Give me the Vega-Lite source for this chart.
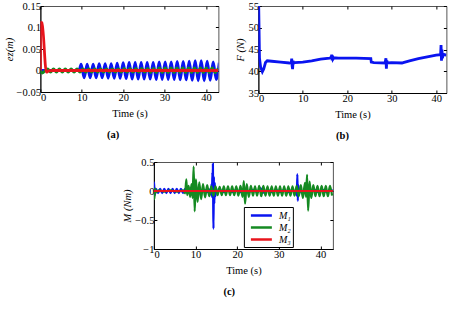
{
  "$schema": "https://vega.github.io/schema/vega-lite/v6.json",
  "background": "white",
  "padding": {"left": 3, "top": -19, "right": 2, "bottom": 0},
  "config": {
    "font": "Liberation Serif",
    "view": {"stroke": "#555", "strokeWidth": 1},
    "axis": {
      "labelFont": "Liberation Serif", "titleFont": "Liberation Serif",
      "labelFontSize": 10.5, "titleFontSize": 10.5,
      "labelColor": "#000", "titleColor": "#000", "titleFontWeight": "normal",
      "domainColor": "#000", "tickColor": "#000", "tickSize": -3,
      "labelPadding": 3, "grid": false, "format": "~f"
    },
    "axisX": {"titlePadding": 6},
    "axisY": {"titlePadding": 2},
    "title": {"font": "Liberation Serif", "fontSize": 10.5, "fontWeight": "bold", "color": "#000", "orient": "bottom", "offset": 11, "anchor": "middle", "frame": "bounds"},
    "legend": {"labelFont": "Liberation Serif"}
  },
  "datasets": {
    "ez": [
      {"t": 0, "v": 0, "s": "x"}, {"t": 9.3, "v": 0, "s": "x"},
      {"t": 9.85, "v": 0.015, "s": "x"}, {"t": 10.57, "v": -0.017, "s": "x"},
      {"t": 11.3, "v": 0.015, "s": "x"}, {"t": 12.02, "v": -0.017, "s": "x"},
      {"t": 12.75, "v": 0.015, "s": "x"}, {"t": 13.47, "v": -0.017, "s": "x"},
      {"t": 14.2, "v": 0.016, "s": "x"}, {"t": 14.92, "v": -0.017, "s": "x"},
      {"t": 15.65, "v": 0.016, "s": "x"}, {"t": 16.37, "v": -0.018, "s": "x"},
      {"t": 17.1, "v": 0.016, "s": "x"}, {"t": 17.82, "v": -0.018, "s": "x"},
      {"t": 18.55, "v": 0.017, "s": "x"}, {"t": 19.27, "v": -0.018, "s": "x"},
      {"t": 20.0, "v": 0.018, "s": "x"}, {"t": 20.72, "v": -0.019, "s": "x"},
      {"t": 21.45, "v": 0.019, "s": "x"}, {"t": 22.17, "v": -0.02, "s": "x"},
      {"t": 22.9, "v": 0.019, "s": "x"}, {"t": 23.62, "v": -0.02, "s": "x"},
      {"t": 24.35, "v": 0.019, "s": "x"}, {"t": 25.07, "v": -0.02, "s": "x"},
      {"t": 25.8, "v": 0.019, "s": "x"}, {"t": 26.52, "v": -0.02, "s": "x"},
      {"t": 27.25, "v": 0.019, "s": "x"}, {"t": 27.97, "v": -0.021, "s": "x"},
      {"t": 28.7, "v": 0.02, "s": "x"}, {"t": 29.42, "v": -0.021, "s": "x"},
      {"t": 30.15, "v": 0.02, "s": "x"}, {"t": 30.87, "v": -0.021, "s": "x"},
      {"t": 31.6, "v": 0.02, "s": "x"}, {"t": 32.32, "v": -0.021, "s": "x"},
      {"t": 33.05, "v": 0.021, "s": "x"}, {"t": 33.77, "v": -0.022, "s": "x"},
      {"t": 34.5, "v": 0.021, "s": "x"}, {"t": 35.22, "v": -0.022, "s": "x"},
      {"t": 35.95, "v": 0.022, "s": "x"}, {"t": 36.67, "v": -0.023, "s": "x"},
      {"t": 37.4, "v": 0.023, "s": "x"}, {"t": 38.12, "v": -0.024, "s": "x"},
      {"t": 38.85, "v": 0.023, "s": "x"}, {"t": 39.57, "v": -0.024, "s": "x"},
      {"t": 40.3, "v": 0.022, "s": "x"}, {"t": 41.02, "v": -0.023, "s": "x"},
      {"t": 41.75, "v": 0.02, "s": "x"}, {"t": 42.47, "v": -0.021, "s": "x"},
      {"t": 43.2, "v": 0.018, "s": "x"},
      {"t": 0, "v": 0, "s": "y"}, {"t": 0.45, "v": -0.006, "s": "y"},
      {"t": 1.75, "v": 0.004, "s": "y"}, {"t": 2.46, "v": -0.004, "s": "y"},
      {"t": 3.17, "v": 0.004, "s": "y"}, {"t": 3.88, "v": -0.004, "s": "y"},
      {"t": 4.59, "v": 0.004, "s": "y"}, {"t": 5.3, "v": -0.004, "s": "y"},
      {"t": 6.01, "v": 0.004, "s": "y"}, {"t": 6.72, "v": -0.004, "s": "y"},
      {"t": 7.43, "v": 0.004, "s": "y"}, {"t": 8.14, "v": -0.004, "s": "y"},
      {"t": 8.85, "v": 0.004, "s": "y"}, {"t": 9.56, "v": -0.004, "s": "y"},
      {"t": 10.27, "v": 0.004, "s": "y"}, {"t": 10.98, "v": -0.004, "s": "y"},
      {"t": 11.69, "v": 0.004, "s": "y"}, {"t": 12.4, "v": -0.004, "s": "y"},
      {"t": 13.11, "v": 0.004, "s": "y"}, {"t": 13.82, "v": -0.004, "s": "y"},
      {"t": 14.53, "v": 0.004, "s": "y"}, {"t": 15.24, "v": -0.004, "s": "y"},
      {"t": 15.95, "v": 0.004, "s": "y"}, {"t": 16.66, "v": -0.004, "s": "y"},
      {"t": 17.37, "v": 0.004, "s": "y"}, {"t": 18.08, "v": -0.004, "s": "y"},
      {"t": 18.79, "v": 0.004, "s": "y"}, {"t": 19.5, "v": -0.004, "s": "y"},
      {"t": 20.21, "v": 0.005, "s": "y"}, {"t": 20.92, "v": -0.004, "s": "y"},
      {"t": 21.63, "v": 0.005, "s": "y"}, {"t": 22.34, "v": -0.004, "s": "y"},
      {"t": 23.05, "v": 0.005, "s": "y"}, {"t": 23.76, "v": -0.004, "s": "y"},
      {"t": 24.47, "v": 0.005, "s": "y"}, {"t": 25.18, "v": -0.004, "s": "y"},
      {"t": 25.89, "v": 0.005, "s": "y"}, {"t": 26.6, "v": -0.005, "s": "y"},
      {"t": 27.31, "v": 0.005, "s": "y"}, {"t": 28.02, "v": -0.005, "s": "y"},
      {"t": 28.73, "v": 0.006, "s": "y"}, {"t": 29.44, "v": -0.005, "s": "y"},
      {"t": 30.15, "v": 0.006, "s": "y"}, {"t": 30.86, "v": -0.005, "s": "y"},
      {"t": 31.57, "v": 0.006, "s": "y"}, {"t": 32.28, "v": -0.005, "s": "y"},
      {"t": 32.99, "v": 0.006, "s": "y"}, {"t": 33.7, "v": -0.005, "s": "y"},
      {"t": 34.41, "v": 0.006, "s": "y"}, {"t": 35.12, "v": -0.005, "s": "y"},
      {"t": 35.83, "v": 0.006, "s": "y"}, {"t": 36.54, "v": -0.005, "s": "y"},
      {"t": 37.25, "v": 0.006, "s": "y"}, {"t": 37.96, "v": -0.005, "s": "y"},
      {"t": 38.67, "v": 0.006, "s": "y"}, {"t": 39.38, "v": -0.005, "s": "y"},
      {"t": 40.09, "v": 0.006, "s": "y"}, {"t": 40.8, "v": -0.005, "s": "y"},
      {"t": 41.51, "v": 0.006, "s": "y"}, {"t": 42.22, "v": -0.005, "s": "y"},
      {"t": 42.93, "v": 0.005, "s": "y"},
      {"t": 0, "v": 0, "s": "z"}, {"t": 0.05, "v": 0.112, "s": "z"},
      {"t": 0.4, "v": 0.111, "s": "z"}, {"t": 1.45, "v": -0.004, "s": "z"},
      {"t": 2.0, "v": -0.001, "s": "z"}, {"t": 3.0, "v": 0, "s": "z"},
      {"t": 43, "v": 0, "s": "z"}
    ],
    "force": [
      {"t": 0, "F": 60}, {"t": 0.25, "F": 43}, {"t": 0.5, "F": 41}, {"t": 0.9, "F": 39.9},
      {"t": 1.2, "F": 40.5}, {"t": 1.6, "F": 42.0}, {"t": 2.0, "F": 42.4}, {"t": 3, "F": 42.3},
      {"t": 5, "F": 42.1}, {"t": 7.0, "F": 41.9}, {"t": 7.4, "F": 42.0}, {"t": 7.5, "F": 42.9},
      {"t": 7.6, "F": 41.2}, {"t": 7.7, "F": 40.5}, {"t": 7.8, "F": 42.4}, {"t": 7.9, "F": 41.8},
      {"t": 8.2, "F": 42.0}, {"t": 10, "F": 42.1}, {"t": 12, "F": 42.4}, {"t": 14, "F": 42.8},
      {"t": 16, "F": 43.0}, {"t": 16.4, "F": 43.2}, {"t": 16.5, "F": 43.8}, {"t": 16.6, "F": 42.5},
      {"t": 16.7, "F": 43.6}, {"t": 16.8, "F": 42.8}, {"t": 17.0, "F": 43.1}, {"t": 18, "F": 43.0},
      {"t": 22, "F": 43.0}, {"t": 25.3, "F": 42.9}, {"t": 25.4, "F": 42.1}, {"t": 26, "F": 42.0},
      {"t": 28.5, "F": 41.9}, {"t": 28.7, "F": 43.0}, {"t": 28.8, "F": 40.6}, {"t": 28.9, "F": 42.5},
      {"t": 29.0, "F": 41.9}, {"t": 30, "F": 42.0}, {"t": 32.3, "F": 41.9}, {"t": 32.6, "F": 42.0},
      {"t": 34, "F": 42.4}, {"t": 36, "F": 42.9}, {"t": 38, "F": 43.3}, {"t": 40, "F": 43.7},
      {"t": 41.0, "F": 43.8}, {"t": 41.1, "F": 46.0}, {"t": 41.2, "F": 42.4}, {"t": 41.3, "F": 45.0},
      {"t": 41.4, "F": 43.0}, {"t": 41.6, "F": 43.9}, {"t": 42.3, "F": 43.7}
    ],
    "moment": [
      {"t": 0, "v": 0, "s": "M₁"}, {"t": 0.05, "v": 0.15, "s": "M₁"}, {"t": 0.2, "v": -0.07, "s": "M₁"},
      {"t": 0.5, "v": 0.035, "s": "M₁"}, {"t": 1.0, "v": -0.035, "s": "M₁"}, {"t": 1.5, "v": 0.035, "s": "M₁"},
      {"t": 2.0, "v": -0.035, "s": "M₁"}, {"t": 2.5, "v": 0.035, "s": "M₁"}, {"t": 3.0, "v": -0.035, "s": "M₁"},
      {"t": 3.5, "v": 0.035, "s": "M₁"}, {"t": 4.0, "v": -0.035, "s": "M₁"}, {"t": 4.5, "v": 0.035, "s": "M₁"},
      {"t": 5.0, "v": -0.035, "s": "M₁"}, {"t": 5.5, "v": 0.035, "s": "M₁"}, {"t": 6.0, "v": -0.035, "s": "M₁"},
      {"t": 6.5, "v": 0.035, "s": "M₁"}, {"t": 7.0, "v": -0.035, "s": "M₁"}, {"t": 7.5, "v": 0.035, "s": "M₁"},
      {"t": 8.0, "v": -0.035, "s": "M₁"}, {"t": 8.5, "v": 0.03, "s": "M₁"}, {"t": 9.0, "v": -0.03, "s": "M₁"},
      {"t": 9.5, "v": 0.03, "s": "M₁"}, {"t": 10.0, "v": -0.03, "s": "M₁"}, {"t": 10.6, "v": 0.02, "s": "M₁"},
      {"t": 11.4, "v": -0.02, "s": "M₁"}, {"t": 12.2, "v": 0.02, "s": "M₁"}, {"t": 13.0, "v": -0.02, "s": "M₁"},
      {"t": 13.5, "v": 0.03, "s": "M₁"}, {"t": 13.7, "v": -0.06, "s": "M₁"}, {"t": 13.85, "v": 0.12, "s": "M₁"},
      {"t": 13.95, "v": -0.1, "s": "M₁"}, {"t": 14.05, "v": 0.32, "s": "M₁"}, {"t": 14.12, "v": 0.1, "s": "M₁"},
      {"t": 14.18, "v": 0.47, "s": "M₁"}, {"t": 14.26, "v": -0.3, "s": "M₁"}, {"t": 14.32, "v": -0.65, "s": "M₁"},
      {"t": 14.42, "v": 0.25, "s": "M₁"}, {"t": 14.52, "v": -0.22, "s": "M₁"}, {"t": 14.64, "v": 0.14, "s": "M₁"},
      {"t": 14.78, "v": -0.09, "s": "M₁"}, {"t": 14.95, "v": 0.05, "s": "M₁"}, {"t": 15.2, "v": -0.03, "s": "M₁"},
      {"t": 15.8, "v": 0.02, "s": "M₁"}, {"t": 16.8, "v": -0.02, "s": "M₁"}, {"t": 17.8, "v": 0.02, "s": "M₁"},
      {"t": 18.8, "v": -0.02, "s": "M₁"}, {"t": 19.8, "v": 0.02, "s": "M₁"}, {"t": 20.8, "v": -0.02, "s": "M₁"},
      {"t": 21.8, "v": 0.02, "s": "M₁"}, {"t": 22.8, "v": -0.02, "s": "M₁"}, {"t": 23.8, "v": 0.02, "s": "M₁"},
      {"t": 24.8, "v": -0.02, "s": "M₁"}, {"t": 25.6, "v": 0.05, "s": "M₁"}, {"t": 26.3, "v": -0.03, "s": "M₁"},
      {"t": 27.3, "v": 0.02, "s": "M₁"}, {"t": 28.3, "v": -0.02, "s": "M₁"}, {"t": 29.3, "v": 0.02, "s": "M₁"},
      {"t": 30.3, "v": -0.02, "s": "M₁"}, {"t": 31.3, "v": 0.02, "s": "M₁"}, {"t": 32.3, "v": -0.02, "s": "M₁"},
      {"t": 33.3, "v": 0.02, "s": "M₁"}, {"t": 33.9, "v": -0.02, "s": "M₁"}, {"t": 34.2, "v": 0.03, "s": "M₁"},
      {"t": 34.35, "v": -0.08, "s": "M₁"}, {"t": 34.47, "v": 0.29, "s": "M₁"}, {"t": 34.57, "v": -0.17, "s": "M₁"},
      {"t": 34.7, "v": 0.1, "s": "M₁"}, {"t": 34.85, "v": -0.06, "s": "M₁"}, {"t": 35.05, "v": 0.03, "s": "M₁"},
      {"t": 35.5, "v": -0.02, "s": "M₁"}, {"t": 36.5, "v": 0.02, "s": "M₁"}, {"t": 37.5, "v": -0.02, "s": "M₁"},
      {"t": 38.5, "v": 0.02, "s": "M₁"}, {"t": 39.5, "v": -0.02, "s": "M₁"}, {"t": 40.5, "v": 0.02, "s": "M₁"},
      {"t": 41.5, "v": -0.02, "s": "M₁"}, {"t": 42.5, "v": 0.02, "s": "M₁"}, {"t": 43, "v": 0, "s": "M₁"},
      {"t": 0, "v": 0, "s": "M₂"}, {"t": 0.1, "v": -0.14, "s": "M₂"}, {"t": 0.3, "v": 0.04, "s": "M₂"},
      {"t": 0.6, "v": -0.02, "s": "M₂"}, {"t": 1.2, "v": 0.01, "s": "M₂"}, {"t": 2.5, "v": -0.01, "s": "M₂"},
      {"t": 4.0, "v": 0.01, "s": "M₂"}, {"t": 5.5, "v": -0.01, "s": "M₂"}, {"t": 7.0, "v": 0.01, "s": "M₂"},
      {"t": 7.5, "v": -0.04, "s": "M₂"}, {"t": 7.8, "v": 0.2, "s": "M₂"}, {"t": 8.0, "v": -0.07, "s": "M₂"},
      {"t": 8.35, "v": 0.09, "s": "M₂"}, {"t": 8.7, "v": -0.1, "s": "M₂"}, {"t": 9.05, "v": 0.12, "s": "M₂"},
      {"t": 9.3, "v": -0.12, "s": "M₂"}, {"t": 9.55, "v": 0.42, "s": "M₂"}, {"t": 9.8, "v": -0.35, "s": "M₂"},
      {"t": 10.1, "v": 0.2, "s": "M₂"}, {"t": 10.5, "v": -0.19, "s": "M₂"}, {"t": 10.9, "v": 0.15, "s": "M₂"},
      {"t": 11.35, "v": -0.14, "s": "M₂"}, {"t": 11.8, "v": 0.12, "s": "M₂"}, {"t": 12.3, "v": -0.11, "s": "M₂"},
      {"t": 12.8, "v": 0.1, "s": "M₂"}, {"t": 13.3, "v": -0.09, "s": "M₂"}, {"t": 13.8, "v": 0.08, "s": "M₂"},
      {"t": 14.3, "v": -0.08, "s": "M₂"}, {"t": 14.8, "v": 0.08, "s": "M₂"}, {"t": 15.3, "v": -0.07, "s": "M₂"},
      {"t": 15.8, "v": 0.07, "s": "M₂"}, {"t": 16.3, "v": -0.07, "s": "M₂"}, {"t": 16.8, "v": 0.08, "s": "M₂"},
      {"t": 17.3, "v": -0.07, "s": "M₂"}, {"t": 17.8, "v": 0.08, "s": "M₂"}, {"t": 18.3, "v": -0.07, "s": "M₂"},
      {"t": 18.8, "v": 0.08, "s": "M₂"}, {"t": 19.3, "v": -0.07, "s": "M₂"}, {"t": 19.8, "v": 0.08, "s": "M₂"},
      {"t": 20.3, "v": -0.08, "s": "M₂"}, {"t": 20.8, "v": 0.09, "s": "M₂"}, {"t": 21.3, "v": -0.1, "s": "M₂"},
      {"t": 21.6, "v": 0.17, "s": "M₂"}, {"t": 21.9, "v": -0.22, "s": "M₂"}, {"t": 22.3, "v": 0.12, "s": "M₂"},
      {"t": 22.8, "v": -0.1, "s": "M₂"}, {"t": 23.3, "v": 0.09, "s": "M₂"}, {"t": 23.8, "v": -0.08, "s": "M₂"},
      {"t": 24.3, "v": 0.08, "s": "M₂"}, {"t": 24.8, "v": -0.08, "s": "M₂"}, {"t": 25.3, "v": 0.09, "s": "M₂"},
      {"t": 25.8, "v": -0.09, "s": "M₂"}, {"t": 26.3, "v": 0.09, "s": "M₂"}, {"t": 26.8, "v": -0.08, "s": "M₂"},
      {"t": 27.3, "v": 0.08, "s": "M₂"}, {"t": 27.8, "v": -0.08, "s": "M₂"}, {"t": 28.3, "v": 0.08, "s": "M₂"},
      {"t": 28.8, "v": -0.08, "s": "M₂"}, {"t": 29.3, "v": 0.08, "s": "M₂"}, {"t": 29.8, "v": -0.08, "s": "M₂"},
      {"t": 30.3, "v": 0.08, "s": "M₂"}, {"t": 30.8, "v": -0.08, "s": "M₂"}, {"t": 31.3, "v": 0.08, "s": "M₂"},
      {"t": 31.8, "v": -0.08, "s": "M₂"}, {"t": 32.3, "v": 0.08, "s": "M₂"}, {"t": 32.8, "v": -0.08, "s": "M₂"},
      {"t": 33.3, "v": 0.08, "s": "M₂"}, {"t": 33.8, "v": -0.08, "s": "M₂"}, {"t": 34.3, "v": 0.09, "s": "M₂"},
      {"t": 34.8, "v": -0.09, "s": "M₂"}, {"t": 35.3, "v": 0.1, "s": "M₂"}, {"t": 35.8, "v": -0.12, "s": "M₂"},
      {"t": 36.3, "v": 0.14, "s": "M₂"}, {"t": 36.55, "v": -0.1, "s": "M₂"}, {"t": 36.8, "v": 0.28, "s": "M₂"},
      {"t": 37.05, "v": -0.34, "s": "M₂"}, {"t": 37.4, "v": 0.16, "s": "M₂"}, {"t": 37.8, "v": -0.12, "s": "M₂"},
      {"t": 38.3, "v": 0.1, "s": "M₂"}, {"t": 38.8, "v": -0.09, "s": "M₂"}, {"t": 39.3, "v": 0.09, "s": "M₂"},
      {"t": 39.8, "v": -0.09, "s": "M₂"}, {"t": 40.3, "v": 0.09, "s": "M₂"}, {"t": 40.8, "v": -0.09, "s": "M₂"},
      {"t": 41.3, "v": 0.09, "s": "M₂"}, {"t": 41.8, "v": -0.09, "s": "M₂"}, {"t": 42.3, "v": 0.09, "s": "M₂"},
      {"t": 42.8, "v": -0.08, "s": "M₂"},
      {"t": 0, "v": 0, "s": "M₃"}, {"t": 43, "v": 0, "s": "M₃"}
    ]
  },
  "vconcat": [
    {
      "hconcat": [
        {
          "width": 178, "height": 86,
          "title": "(a)",
          "data": {"name": "ez"},
          "layer": [
            {
              "mark": {"type": "line", "interpolate": "monotone", "strokeWidth": 2.8, "clip": true},
              "encoding": {
                "x": {"field": "t", "type": "quantitative", "scale": {"domain": [0, 43], "nice": false, "zero": false},
                      "axis": {"title": "Time (s)", "values": [0, 10, 20, 30, 40]}},
                "y": {"field": "v", "type": "quantitative", "scale": {"domain": [-0.05, 0.15], "nice": false},
                      "axis": {"title": "eᴢ(m)", "titleFontStyle": "italic", "values": [-0.05, 0, 0.05, 0.1, 0.15]}},
                "color": {"field": "s", "type": "nominal", "legend": null,
                          "scale": {"domain": ["x", "y", "z"], "range": ["#0a14f0", "#158a22", "#e8141c"]}}
              }
            },
            {
              "mark": {"type": "point", "opacity": 0},
              "encoding": {
                "x": {"field": "t", "type": "quantitative", "axis": {"orient": "top", "labels": false, "title": null, "domain": false, "minExtent": 0, "maxExtent": 0, "values": [0, 10, 20, 30, 40]}},
                "y": {"field": "v", "type": "quantitative", "axis": {"orient": "right", "labels": false, "title": null, "domain": false, "minExtent": 0, "maxExtent": 0, "values": [-0.05, 0, 0.05, 0.1, 0.15]}}
              }
            }
          ],
          "resolve": {"axis": {"x": "independent", "y": "independent"}}
        },
        {
          "width": 188, "height": 87,
          "title": "(b)",
          "data": {"name": "force"},
          "layer": [
            {
              "mark": {"type": "line", "strokeWidth": 2.8, "color": "#0a14f0", "clip": true},
              "encoding": {
                "x": {"field": "t", "type": "quantitative", "scale": {"domain": [0, 42.3], "nice": false},
                      "axis": {"title": "Time (s)", "values": [0, 10, 20, 30, 40]}},
                "y": {"field": "F", "type": "quantitative", "scale": {"domain": [35, 55], "nice": false, "zero": false},
                      "axis": {"title": "F (N)", "titleFontStyle": "italic", "values": [35, 40, 45, 50, 55]}}
              }
            },
            {
              "mark": {"type": "point", "opacity": 0},
              "encoding": {
                "x": {"field": "t", "type": "quantitative", "axis": {"orient": "top", "labels": false, "title": null, "domain": false, "minExtent": 0, "maxExtent": 0, "values": [0, 10, 20, 30, 40]}},
                "y": {"field": "F", "type": "quantitative", "axis": {"orient": "right", "labels": false, "title": null, "domain": false, "minExtent": 0, "maxExtent": 0, "values": [35, 40, 45, 50, 55]}}
              }
            }
          ],
          "resolve": {"axis": {"x": "independent", "y": "independent"}}
        }
      ],
      "spacing": 12,
      "resolve": {"scale": {"color": "independent"}}
    },
    {
      "width": 179, "height": 87,
      "title": "(c)",
      "data": {"name": "moment"},
      "layer": [
        {
          "mark": {"type": "line", "interpolate": "monotone", "strokeWidth": 2.2, "clip": true},
          "encoding": {
            "x": {"field": "t", "type": "quantitative", "scale": {"domain": [0, 43], "nice": false},
                  "axis": {"title": "Time (s)", "values": [0, 10, 20, 30, 40]}},
            "y": {"field": "v", "type": "quantitative", "scale": {"domain": [-1, 0.5], "nice": false},
                  "axis": {"title": "M (Nm)", "titleFontStyle": "italic", "values": [-1, -0.5, 0, 0.5]}},
            "color": {"field": "s", "type": "nominal",
                      "scale": {"domain": ["M₁", "M₂", "M₃"], "range": ["#0a14f0", "#158a22", "#e8141c"]},
                      "legend": {"orient": "none", "legendX": 90, "legendY": 45, "title": null,
                                 "symbolType": "M-2,0H2", "symbolSize": 110, "symbolStrokeWidth": 2.5,
                                 "symbolOffset": 9, "labelOffset": 11,
                                 "labelFontSize": 10, "labelFontStyle": "italic", "labelColor": "#000",
                                 "strokeColor": "#000", "fillColor": "white", "padding": 2,
                                 "rowPadding": 0}}
          }
        },
        {
          "mark": {"type": "point", "opacity": 0},
          "encoding": {
            "x": {"field": "t", "type": "quantitative", "axis": {"orient": "top", "labels": false, "title": null, "domain": false, "minExtent": 0, "maxExtent": 0, "values": [0, 10, 20, 30, 40]}},
            "y": {"field": "v", "type": "quantitative", "axis": {"orient": "right", "labels": false, "title": null, "domain": false, "minExtent": 0, "maxExtent": 0, "values": [-1, -0.5, 0, 0.5]}}
          }
        }
      ],
      "resolve": {"axis": {"x": "independent", "y": "independent"}}
    }
  ],
  "spacing": 14,
  "center": true,
  "resolve": {"scale": {"color": "independent"}}
}
